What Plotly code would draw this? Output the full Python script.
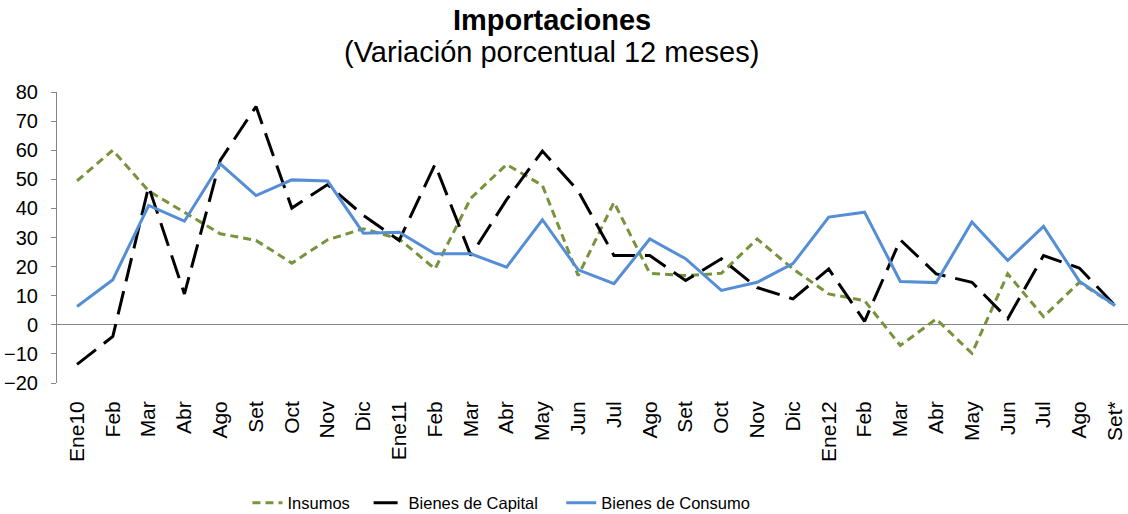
import plotly.graph_objects as go

meses = ["Ene10", "Feb", "Mar", "Abr", "Ago", "Set", "Oct", "Nov", "Dic",
         "Ene11", "Feb", "Mar", "Abr", "May", "Jun", "Jul", "Ago", "Set", "Oct", "Nov", "Dic",
         "Ene12", "Feb", "Mar", "Abr", "May", "Jun", "Jul", "Ago", "Set*"]

insumos = [49.5, 60, 46, 38.7, 31.3, 29, 21.2, 29.2, 33,
           29.5, 19.2, 43.5, 55.1, 47.9, 16.9, 42.1, 17.7, 16.9, 17.7, 29.5, 19.2,
           10.6, 8.3, -7.1, 2.0, -9.8, 17.5, 2.8, 14.6, 6.6]

capital = [-13.6, -4, 47.5, 10.6, 56.5, 75, 40.1, 48.2, 37.6,
           29, 55.1, 23.8, 43, 59.7, 46, 23.8, 23.8, 15.2, 22.7, 12.8, 8.9,
           19.2, 1.2, 29.2, 17.5, 14.6, 2.1, 23.8, 19.5, 6.6]

consumo = [6.3, 15.5, 41, 35.6, 55.3, 44.4, 49.8, 49.4, 31.5,
           31.8, 24.4, 24.4, 19.8, 36.1, 18.9, 14.1, 29.5, 22.7, 11.8, 14.6, 21,
           37, 38.7, 14.9, 14.5, 35.3, 22.1, 33.8, 15, 6.6]

y_ticks = [-20, -10, 0, 10, 20, 30, 40, 50, 60, 70, 80]

x = list(range(len(meses)))
font = "Liberation Sans, Arial, sans-serif"

W, H = 1128, 514
ML, MR, MT, MB = 57, 0, 92, 131
plot_h = H - MT - MB
NB = "\u00a0"

fig = go.Figure()
fig.add_trace(go.Scatter(x=x, y=insumos, name="Insumos" + NB * 3, mode="lines",
                         line=dict(color="#77933C", width=3, dash="8px,5px")))
fig.add_trace(go.Scatter(x=x, y=capital, name="Bienes de Capital" + NB * 4, mode="lines",
                         line=dict(color="#000000", width=3, dash="24px,10px")))
fig.add_trace(go.Scatter(x=x, y=consumo, name="Bienes de Consumo", mode="lines",
                         line=dict(color="#558ED5", width=3)))

fig.update_layout(
    width=W, height=H,
    margin=dict(l=ML, r=MR, t=MT, b=MB, autoexpand=False),
    paper_bgcolor="white", plot_bgcolor="white",
    font=dict(family=font, size=20, color="#000000"),
    showlegend=True,
    legend=dict(orientation="h", x=0.415, xanchor="center",
                yref="container", y=1 - 503 / H, yanchor="middle",
                font=dict(size=16.5), itemwidth=30, tracegroupgap=0),
    xaxis=dict(range=[-0.56, 29.36], tickmode="array", tickvals=x, ticktext=meses,
               tickangle=-90, showgrid=False, showline=False, zeroline=False,
               ticks="", ticklabelstandoff=13, tickfont=dict(size=21), automargin=False),
    yaxis=dict(range=[-20, 80], tickmode="array", tickvals=y_ticks,
               showgrid=False, showline=True, linecolor="#868686", linewidth=1,
               ticks="outside", ticklen=5, tickcolor="#868686",
               zeroline=True, zerolinecolor="#868686", zerolinewidth=1,
               ticklabelstandoff=9, tickfont=dict(size=20), automargin=False),
    annotations=[
        dict(text="<b>Importaciones</b>", x=0.462, xref="paper",
             y=1 + (MT - 38) / plot_h, yref="paper", yanchor="bottom",
             showarrow=False, font=dict(size=29), xanchor="center"),
        dict(text="(Variación porcentual 12 meses)", x=0.462, xref="paper",
             y=1 + (MT - 70) / plot_h, yref="paper", yanchor="bottom",
             showarrow=False, font=dict(size=29), xanchor="center"),
    ],
)

fig.write_html("out.html",
               config={"displayModeBar": False},
               post_script="document.body.style.margin='0';document.body.style.padding='0';")
